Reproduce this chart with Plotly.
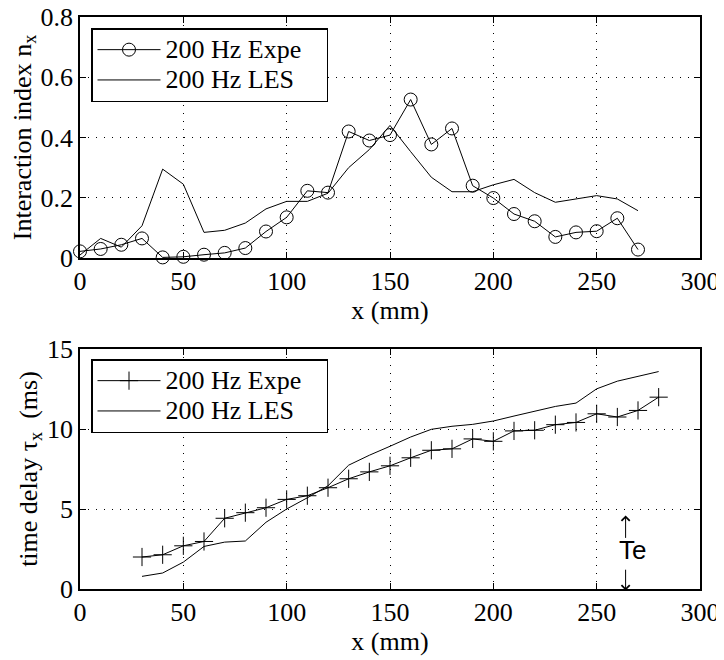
import plotly.graph_objects as go

# ---------------- data ----------------
x_top = [0, 10, 20, 30, 40, 50, 60, 70, 80, 90, 100, 110, 120, 130, 140, 150, 160, 170,
         180, 190, 200, 210, 220, 230, 240, 250, 260, 270]
n_expe = [0.022, 0.030, 0.044, 0.065, 0.002, 0.004, 0.011, 0.017, 0.033, 0.088, 0.135,
          0.223, 0.217, 0.420, 0.390, 0.408, 0.526, 0.377, 0.430, 0.240, 0.199, 0.146,
          0.122, 0.070, 0.085, 0.089, 0.132, 0.028]
n_les = [0.010, 0.065, 0.036, 0.107, 0.295, 0.245, 0.085, 0.092, 0.116, 0.163, 0.188,
         0.188, 0.215, 0.300, 0.360, 0.440, 0.353, 0.268, 0.220, 0.220, 0.243, 0.261,
         0.217, 0.185, 0.196, 0.207, 0.196, 0.157]

x_bot = [30, 40, 50, 60, 70, 80, 90, 100, 110, 120, 130, 140, 150, 160, 170, 180, 190,
         200, 210, 220, 230, 240, 250, 260, 270, 280]
tau_expe = [2.0, 2.14, 2.7, 2.97, 4.42, 4.77, 5.08, 5.6, 5.83, 6.33, 6.89, 7.32, 7.7, 8.2,
            8.67, 8.76, 9.38, 9.23, 9.88, 9.92, 10.27, 10.41, 10.95, 10.75, 11.16, 11.99]
tau_les = [0.79, 1.0, 1.68, 2.66, 2.93, 3.0, 4.17, 5.0, 5.7, 6.45, 7.74, 8.36, 8.92, 9.5,
           9.98, 10.17, 10.29, 10.5, 10.81, 11.1, 11.41, 11.62, 12.51, 12.99, 13.3, 13.59]

x_ticks = [0, 50, 100, 150, 200, 250, 300]
y_ticks_top = [0, 0.2, 0.4, 0.6, 0.8]
y_ticks_top_text = ["0", "0.2", "0.4", "0.6", "0.8"]
y_ticks_bot = [0, 5, 10, 15]

legend_names = ["200 Hz Expe", "200 Hz LES"]

# Te annotation (data coords of bottom panel)
te_x = 264
te_up = (3.1, 4.6)      # tail, tip
te_down = (1.3, -0.1)   # tail, tip
te_text_pos = (267.5, 2.45)

SERIF = "Liberation Serif"
SANS = "Liberation Sans"


def legend_label(name):
    # larger glyphs than the legend row height (rows are tight in the reference)
    return '<span style="font-size:26px">' + name + '&nbsp;&nbsp;&nbsp;</span>'


fig = go.Figure()

line_style = dict(color="black", width=1)

fig.add_trace(go.Scatter(x=x_top, y=n_expe, mode="lines+markers", name=legend_label(legend_names[0]),
                         line=line_style, cliponaxis=False,
                         marker=dict(symbol="circle-open", size=13, color="black",
                                     line=dict(width=1, color="black")),
                         xaxis="x", yaxis="y", legend="legend"))
fig.add_trace(go.Scatter(x=x_top, y=n_les, mode="lines", name=legend_label(legend_names[1]),
                         line=line_style, cliponaxis=False,
                         xaxis="x", yaxis="y", legend="legend"))

fig.add_trace(go.Scatter(x=x_bot, y=tau_expe, mode="lines+markers", name=legend_label(legend_names[0]),
                         line=line_style, cliponaxis=False,
                         marker=dict(symbol="cross-thin-open", size=13, color="black",
                                     line=dict(width=1, color="black")),
                         xaxis="x2", yaxis="y2", legend="legend2"))
fig.add_trace(go.Scatter(x=x_bot, y=tau_les, mode="lines", name=legend_label(legend_names[1]),
                         line=line_style, cliponaxis=False,
                         xaxis="x2", yaxis="y2", legend="legend2"))

# page body has an 8px margin: figure is laid out 8px left/up of window coords
OFF = 8
W, H = 724 - OFF, 660 - OFF
ML, MT = 80 - OFF, 17 - OFF
MR = W - (700 - OFF)
MB = H - (589 - OFF)
PW = W - ML - MR
PH = H - MT - MB
ydom_top = [1 - (258 - 17) / PH, 1]
ydom_bot = [0, (589 - 349) / PH]

axis_common = dict(
    showline=True, linecolor="black", linewidth=1.5, mirror="ticks",
    ticks="inside", ticklen=6, tickwidth=1, tickcolor="black",
    showgrid=True, gridcolor="black", gridwidth=1, griddash="1px,7px",
    zeroline=False, automargin=False, ticklabeloverflow="allow",
    tickfont=dict(family=SERIF, size=26, color="black"),
)

title_font = dict(family=SERIF, size=26, color="black")

legend_common = dict(xanchor="left", yanchor="top",
                     bgcolor="white", bordercolor="black", borderwidth=1.5,
                     font=dict(family=SERIF, size=21, color="black"),
                     tracegroupgap=0, itemwidth=63)

fig.update_layout(
    width=W, height=H,
    margin=dict(l=ML, r=MR, t=MT, b=MB),
    paper_bgcolor="white", plot_bgcolor="white",
    font=dict(family=SERIF, color="black"),
    xaxis=dict(domain=[0, 1], range=[0, 300], tickvals=x_ticks, anchor="y",
               title=dict(text="x (mm)", font=title_font, standoff=0),
               ticklabelstandoff=-1, **axis_common),
    yaxis=dict(domain=ydom_top, range=[0, 0.8], tickvals=y_ticks_top,
               ticktext=y_ticks_top_text, anchor="x",
               title=dict(text="Interaction index n<sub>x</sub>", font=title_font, standoff=4),
               ticklabelstandoff=0, **axis_common),
    xaxis2=dict(domain=[0, 1], range=[0, 300], tickvals=x_ticks, anchor="y2",
                title=dict(text="x (mm)", font=title_font, standoff=0),
                ticklabelstandoff=-1, **axis_common),
    yaxis2=dict(domain=ydom_bot, range=[0, 15], tickvals=y_ticks_bot, anchor="x2",
                title=dict(text="time delay τ<sub>x</sub>  (ms)", font=title_font, standoff=2),
                ticklabelstandoff=0, **axis_common),
    legend=dict(x=(91 - 80) / PW, y=1 - (28 - 17) / PH, **legend_common),
    legend2=dict(x=(91 - 80) / PW, y=1 - (359 - 17) / PH, **legend_common),
    showlegend=True,
)

# Te annotation: up arrow, text, down arrow
fig.add_annotation(x=te_x, y=te_up[1], ax=te_x, ay=te_up[0], xref="x2", yref="y2",
                   axref="x2", ayref="y2", text="", showarrow=True, arrowhead=4,
                   arrowsize=1.6, arrowwidth=1, arrowcolor="black", standoff=0)
fig.add_annotation(x=te_x, y=te_down[1], ax=te_x, ay=te_down[0], xref="x2", yref="y2",
                   axref="x2", ayref="y2", text="", showarrow=True, arrowhead=4,
                   arrowsize=1.6, arrowwidth=1, arrowcolor="black", standoff=0)
fig.add_annotation(x=te_text_pos[0], y=te_text_pos[1], xref="x2", yref="y2",
                   text="Te", showarrow=False,
                   font=dict(family=SANS, size=26, color="black"))

fig.write_html("out.html")
